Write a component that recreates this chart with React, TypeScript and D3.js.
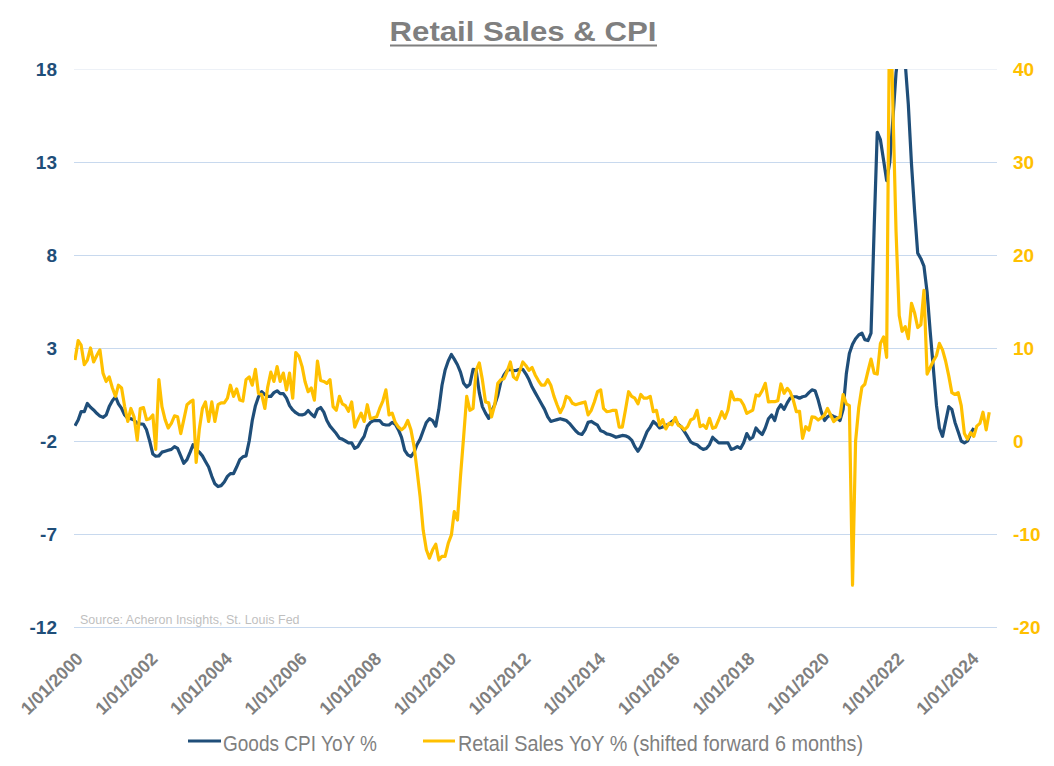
import * as d3 from 'd3';
import { useMemo } from 'react';

// Goods CPI YoY %, monthly from Jan 2000 (left axis)
const cpiGoodsYoY = [
  -1.18, -0.87, -0.42, -0.42, 0.02, -0.19, -0.33, -0.51, -0.66, -0.73, -0.6, -0.15,
  0.17, 0.38, 0.0, -0.25, -0.6, -0.78, -0.8, -0.87, -1.05, -1.08, -1.1, -1.4,
  -2.0, -2.7, -2.82, -2.8, -2.6, -2.55, -2.5, -2.45, -2.3, -2.4, -2.8, -3.2,
  -3.0, -2.6, -2.2, -2.45, -2.6, -2.8, -3.1, -3.4, -3.9, -4.3, -4.45, -4.4,
  -4.2, -3.9, -3.75, -3.75, -3.4, -3.0, -2.85, -2.8, -2.0, -0.9, -0.1, 0.38,
  0.65, 0.5, 0.4, 0.4, 0.6, 0.7, 0.55, 0.55, 0.3, -0.1, -0.33, -0.48,
  -0.58, -0.6, -0.55, -0.36, -0.55, -0.7, -0.3, -0.2, -0.45, -0.9, -1.2, -1.4,
  -1.6, -1.85, -1.9, -2.0, -2.1, -2.1, -2.4, -2.3, -2.0, -1.75, -1.2, -1.0,
  -0.9, -0.9, -0.9, -1.1, -1.14, -1.14, -1.0, -1.1, -1.4, -1.8, -2.5, -2.75,
  -2.84, -2.6, -2.2, -1.9, -1.45, -1.0, -0.8, -0.9, -1.2, -0.3, 1.0, 1.8,
  2.3, 2.65, 2.4, 2.1, 1.7, 1.1, 0.9, 1.05, 1.85, 1.8, 0.6, -0.15,
  -0.5, -0.78, -0.4, -0.05, 0.45, 1.2, 1.55, 1.8, 1.85, 1.78, 1.8, 1.85,
  1.85, 1.6, 1.3, 0.9, 0.6, 0.3, 0.0, -0.3, -0.7, -0.95, -0.9, -0.85,
  -0.8, -0.85, -0.9, -1.05, -1.25, -1.45, -1.6, -1.65, -1.4, -1.0, -0.95, -1.05,
  -1.15, -1.45, -1.5, -1.62, -1.65, -1.72, -1.8, -1.75, -1.7, -1.72, -1.8, -1.95,
  -2.3, -2.55, -2.3, -1.9, -1.5, -1.25, -0.95, -1.1, -1.3, -1.25, -1.15, -1.1,
  -0.95, -0.85, -1.1, -1.25, -1.5, -1.77, -2.05, -2.15, -2.2, -2.35, -2.45, -2.4,
  -2.2, -1.8, -1.95, -2.1, -2.1, -2.1, -2.1, -2.45, -2.4, -2.3, -2.4, -2.1,
  -1.6, -1.9, -1.8, -1.3, -1.5, -1.65, -1.3, -0.8, -0.6, -0.9, -0.3, -0.05,
  -0.3, 0.05, 0.3, 0.38, 0.38, 0.3, 0.38, 0.42, 0.6, 0.75, 0.7, 0.2,
  -0.45, -0.9, -0.7, -0.6, -0.68, -0.75, -0.9, -0.3, 1.6, 2.7, 3.2, 3.5,
  3.7, 3.8, 3.45, 3.4, 3.8, 9.5, 14.6, 14.2, 13.1, 12.0, 13.0, 15.3,
  17.8, 19.2, 19.8, 18.3, 16.1, 12.9, 10.4, 8.1, 7.8, 7.4, 6.0, 3.9,
  1.9, -0.1, -1.3, -1.75, -0.95, -0.15, -0.3, -1.0, -1.5, -2.0, -2.1, -2.0,
  -1.6, -1.3,
];

// Retail Sales YoY %, shifted forward 6 months, monthly from Jan 2000 (right axis)
const retailSalesYoY = [
  8.7, 10.8, 10.3, 8.2, 8.7, 10.0, 8.5, 9.2, 9.8, 7.3, 6.4, 6.9,
  5.7, 4.8, 6.0, 5.7, 3.7, 2.1, 3.5, 2.6, 0.1, 3.5, 3.6, 2.3,
  2.4, 2.8, -0.9, 6.6, 3.7, 2.3, 1.4, 1.9, 2.7, 2.6, 0.8, 2.3,
  3.9, 4.2, 4.4, -2.3, 1.2, 3.5, 4.2, 2.1, 4.2, 2.1, 3.9, 4.1,
  4.1, 4.6, 6.0, 4.8, 5.6, 4.4, 4.3, 6.6, 6.9, 6.0, 7.7, 5.1,
  5.0, 3.5, 5.8, 7.4, 6.4, 8.0, 6.4, 7.3, 5.5, 7.3, 4.6, 9.5,
  9.1, 8.0, 6.4, 5.3, 5.7, 4.4, 8.6, 6.5, 6.4, 6.2, 6.6, 3.7,
  3.3, 4.8, 4.0, 3.8, 3.2, 4.2, 1.5, 2.3, 3.0, 2.1, 3.9, 2.4,
  2.5, 2.6, 3.5, 4.3, 5.5, 2.8, 3.0, 2.0, 1.5, 1.2, 1.5, 2.2,
  1.2, -0.6, -3.1, -6.0, -9.6, -11.7, -12.6, -11.7, -11.1, -12.8, -12.4, -12.4,
  -11.0, -10.1, -7.6, -8.5, -3.8, 0.5, 4.8, 3.3, 3.5, 7.6, 8.4, 6.6,
  4.2, 4.1, 2.6, 3.9, 6.2, 6.6, 6.7, 7.5, 8.5, 6.9, 6.6, 7.5,
  8.5, 8.1, 7.6, 7.9, 7.1, 6.5, 6.0, 6.0, 6.6, 6.0, 4.8, 3.9,
  3.05, 3.7, 4.8, 4.6, 4.05, 3.9, 4.0, 4.1, 4.2, 2.8, 3.3, 4.2,
  5.3, 5.5, 3.5, 3.15, 3.2, 3.3, 3.3, 1.5, 1.5, 3.3, 5.3, 4.8,
  4.6, 4.0, 5.0, 4.6, 4.6, 4.8, 3.15, 3.3, 1.7, 2.3, 1.3, 1.9,
  1.75, 2.54, 1.7, 1.54, 1.2, 1.54, 2.26, 2.44, 3.3, 1.54, 1.72, 1.36,
  2.44, 1.36, 1.47, 2.26, 3.15, 2.44, 3.33, 5.3, 4.41, 4.48, 4.41, 3.87,
  2.97, 3.15, 3.33, 4.95, 4.84, 5.41, 6.2, 4.2, 4.23, 4.23, 4.34, 6.13,
  5.13, 5.66, 5.3, 4.41, 3.15, 3.2, 0.29, 1.54, 1.18, 2.6, 2.54, 2.26,
  2.5, 2.8, 3.5, 2.8, 2.1, 2.4, 2.6, 5.0, 4.0, 3.8, -15.5, 0.0,
  3.6, 5.8, 6.1, 7.5, 8.8, 7.3, 7.2, 10.5, 11.2, 9.0, 50.0, 36.0,
  22.5, 13.5, 11.8, 12.3, 11.0, 14.8, 13.8, 12.2, 12.5, 16.2, 7.2, 7.9,
  8.6, 9.2, 10.5, 9.8, 8.6, 7.0, 5.2, 5.0, 5.2, 3.8, 0.8, 0.2,
  0.9, 0.5, 1.6, 1.9, 3.1, 1.2, 3.1,
];

const leftTicks = [-12, -7, -2, 3, 8, 13, 18];
const rightTicks = [-20, -10, 0, 10, 20, 30, 40];
const xTickDates = [
  '2000-01-01', '2002-01-01', '2004-01-01', '2006-01-01', '2008-01-01', '2010-01-01',
  '2012-01-01', '2014-01-01', '2016-01-01', '2018-01-01', '2020-01-01', '2022-01-01',
  '2024-01-01',
];
const seriesNames = ['Goods CPI YoY %', 'Retail Sales YoY % (shifted forward 6 months)'];

const W = 1054;
const H = 766;
const FONT = '"Liberation Sans", Arial, sans-serif';
const BLUE = '#1F4E79';
const GOLD = '#FFC000';
const GREY = '#7f7f7f';

export default function App() {
  const start = new Date(Date.UTC(2000, 0, 1));
  const plot = { left: 75, right: 997, top: 69, bottom: 627 };

  const x = d3
    .scaleUtc()
    .domain([start, new Date(Date.UTC(2024, 8, 15))])
    .range([plot.left, plot.right]);
  const yLeft = d3.scaleLinear().domain([-12, 18]).range([plot.bottom, plot.top]);
  const yRight = d3.scaleLinear().domain([-20, 40]).range([plot.bottom, plot.top]);

  const paths = useMemo(() => {
    const cpiLine = d3
      .line<number>()
      .x((_, i) => x(d3.utcMonth.offset(start, i)))
      .y((d) => yLeft(d));
    const retailLine = d3
      .line<number>()
      .x((_, i) => x(d3.utcMonth.offset(start, i)))
      .y((d) => yRight(d));
    return { cpi: cpiLine(cpiGoodsYoY) || '', retail: retailLine(retailSalesYoY) || '' };
  }, []);

  return (
    <svg
      width={W}
      height={H}
      style={{ position: 'absolute', left: 0, top: 0, background: '#fff' }}
      fontFamily={FONT}
    >
      <defs>
        <clipPath id="plot-clip">
          <rect
            x={plot.left - 1}
            y={plot.top}
            width={plot.right - plot.left + 2}
            height={plot.bottom - plot.top}
          />
        </clipPath>
      </defs>

      {/* Title */}
      <text x={523} y={41} textAnchor="middle" fontSize={28} fontWeight="bold" fill={GREY} textLength={267} lengthAdjust="spacingAndGlyphs">
        Retail Sales &amp; CPI
      </text>
      <line x1={390} x2={657} y1={45.5} y2={45.5} stroke={GREY} strokeWidth={2} />

      {/* Grid */}
      {leftTicks.map((t, i) => (
        <line
          key={t}
          x1={plot.left - 1}
          x2={plot.right}
          y1={Math.round(yLeft(t)) + 0.5}
          y2={Math.round(yLeft(t)) + 0.5}
          stroke={i === leftTicks.length - 1 ? '#edf1f7' : '#c8d9ee'}
          strokeWidth={1}
        />
      ))}

      {/* Left axis */}
      {leftTicks.map((t) => (
        <text key={t} x={57} y={yLeft(t)} dy="0.35em" textAnchor="end" fontSize={19} fontWeight="bold" fill={BLUE}>
          {t}
        </text>
      ))}

      {/* Right axis */}
      {rightTicks.map((t) => (
        <text key={t} x={1013} y={yRight(t)} dy="0.35em" textAnchor="start" fontSize={19} fontWeight="bold" fill={GOLD}>
          {t}
        </text>
      ))}

      {/* X axis labels */}
      {xTickDates.map((d) => {
        const date = new Date(d + 'T00:00:00Z');
        const tx = x(date) + 9;
        const ty = 660;
        return (
          <text
            key={d}
            x={tx}
            y={ty}
            textAnchor="end"
            fontSize={18}
            fontWeight="bold"
            fill={GREY}
            textLength={79}
            lengthAdjust="spacingAndGlyphs"
            transform={`rotate(-45, ${tx}, ${ty})`}
          >
            {d3.utcFormat('%-m/%d/%Y')(date)}
          </text>
        );
      })}

      {/* Source */}
      <text x={80} y={624} fontSize={12.5} fill="#bfbfbf">
        Source: Acheron Insights, St. Louis Fed
      </text>

      {/* Series */}
      <g clipPath="url(#plot-clip)">
        <path d={paths.cpi} fill="none" stroke={BLUE} strokeWidth={3.2} strokeLinejoin="round" />
        <path d={paths.retail} fill="none" stroke={GOLD} strokeWidth={3.2} strokeLinejoin="round" />
      </g>

      {/* Legend */}
      <line x1={188} x2={221} y1={741} y2={741} stroke={BLUE} strokeWidth={3} />
      <text x={223} y={751} fontSize={22} fill={GREY} textLength={154} lengthAdjust="spacingAndGlyphs">
        {seriesNames[0]}
      </text>
      <line x1={423} x2={455} y1={741} y2={741} stroke={GOLD} strokeWidth={3} />
      <text x={458} y={751} fontSize={22} fill={GREY} textLength={405} lengthAdjust="spacingAndGlyphs">
        {seriesNames[1]}
      </text>
    </svg>
  );
}
